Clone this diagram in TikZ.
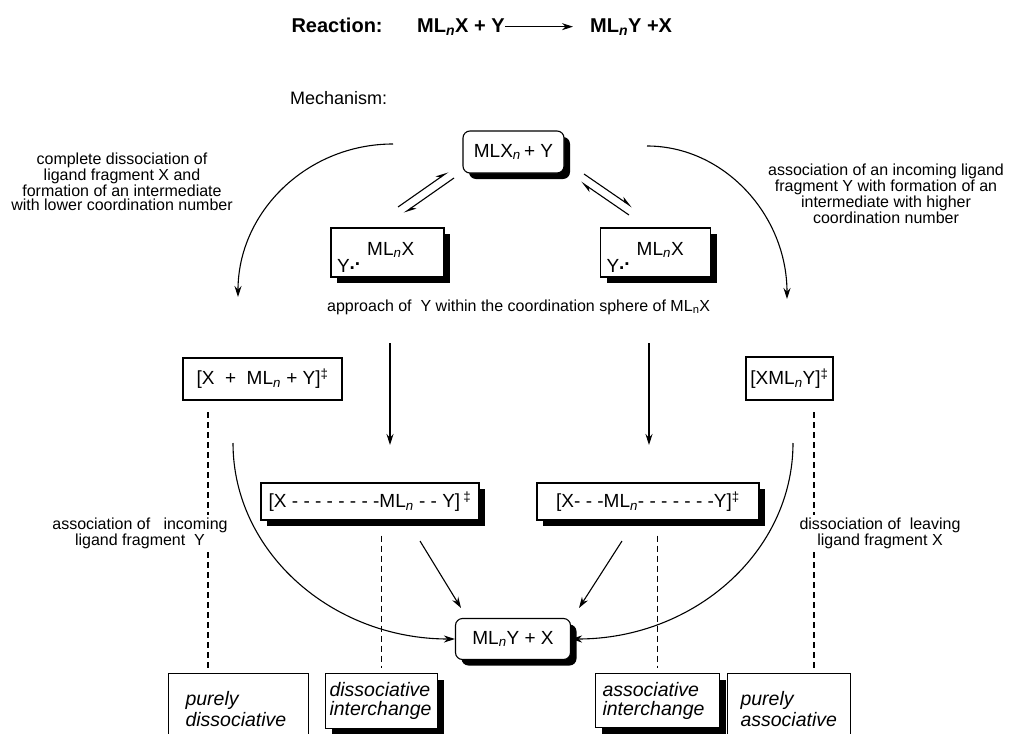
\documentclass[tikz,border=0pt]{standalone}
\usepackage{fontspec}
\setmainfont{Liberation Sans}
\usetikzlibrary{arrows.meta,shadows}
\newcommand{\subn}{\textsubscript{\itshape n}}
\newcommand{\ydots}{Y\raisebox{3pt}{\textbf{.}}\raisebox{7pt}{\textbf{.}}}
\tikzstyle{box}=[draw, line width=1.1pt, fill=white, inner sep=0pt, font=\fontsize{19}{21}\selectfont]
\tikzstyle{shadowbox}=[box, drop shadow={shadow xshift=6pt, shadow yshift=-6pt, fill=black, opacity=1}]
\tikzstyle{roundbox}=[shadowbox, rounded corners=7pt]
\tikzstyle{modebox}=[box, anchor=north west, align=left, font=\fontsize{19.5}{21}\selectfont\itshape]
\tikzstyle{note}=[align=center, inner sep=0pt, font=\fontsize{16}{14}\selectfont]
\tikzstyle{arrow}=[draw=black, line width=1.1pt, -{Stealth[length=11pt,width=7pt]}]
\tikzstyle{eqarrow}=[draw=black, line width=1.1pt, -{Stealth[harpoon,length=11pt,width=7pt]}]
\tikzstyle{dashline}=[draw=black, line width=1.3pt, dash pattern=on 6pt off 4pt]

\begin{document}
\begin{tikzpicture}[x=1pt,y=-1pt]
	\useasboundingbox (0,0) rectangle (1013,734);
	\clip (0,0) rectangle (1013,734);
	\begin{scope}
		\node (0) at (288,32)[anchor=base west, font=\fontsize{20}{22}\selectfont\bfseries] {Reaction:};
		\node (1) at (417,32)[anchor=base west, inner sep=0pt, font=\fontsize{20}{22}\selectfont\bfseries] {ML\subn X + Y};
		\node (2) at (590,32)[anchor=base west, inner sep=0pt, font=\fontsize{20}{22}\selectfont\bfseries] {ML\subn Y +X};
		\node (3) at (290,104)[anchor=base west, inner sep=0pt, font=\fontsize{18}{20}\selectfont] {Mechanism:};
		\node (4) at (513.5,152)[roundbox, minimum width=101pt, minimum height=42pt] {MLX\subn\,+ Y};
		\node (5) at (387.5,252.5)[shadowbox, minimum width=113pt, minimum height=49pt] {\smash{\makebox[113pt][l]{\hspace{6pt}\raisebox{-19.5pt}{\ydots}\hspace{7pt}\raisebox{-2.5pt}{ML\subn X}}}};
		\node (6) at (655.5,252.5)[shadowbox, minimum width=110pt, minimum height=49pt] {\smash{\makebox[110pt][l]{\hspace{6pt}\raisebox{-19.5pt}{\ydots}\hspace{7pt}\raisebox{-2.5pt}{ML\subn X}}}};
		\node (7) at (327,311)[anchor=base west, inner sep=0pt, font=\fontsize{16}{14}\selectfont] {approach of \ Y within the coordination sphere of ML\textsubscript{n}X};
		\node (8) at (122,182)[note] {complete dissociation of\\ligand fragment X and\\formation of an intermediate\\with lower coordination number};
		\node (9) at (886,194)[note] {association of an incoming ligand\\fragment Y with formation of an\\intermediate with higher\\coordination number};
		\node (10) at (262.5,379)[box, minimum width=159pt, minimum height=42pt] {[X \ + \ ML\subn\ + Y]\textsuperscript{‡}};
		\node (11) at (789.5,378.5)[box, minimum width=87pt, minimum height=43pt] {[XML\subn Y]\textsuperscript{‡}};
		\node (12) at (370,501.5)[shadowbox, minimum width=218pt, minimum height=37pt] {[X - - - - - - - -ML\subn\ - - Y]\,\textsuperscript{‡}};
		\node (13) at (648,501.5)[shadowbox, minimum width=222pt, minimum height=37pt] {[X- - -ML\subn- - - - - - -Y]\textsuperscript{‡}};
		\node (14) at (513,639)[roundbox, minimum width=115pt, minimum height=41pt] {ML\subn Y + X};
		\node (17) at (168,673)[modebox, minimum width=140pt, minimum height=70pt, inner xsep=17pt, text width=106pt] {purely\\dissociative};
		\node (18) at (325,673)[modebox, shadowbox, anchor=north west, minimum width=112pt, minimum height=55pt, inner xsep=4pt, text width=104pt, font=\fontsize{19.5}{19}\selectfont\itshape] {dissociative\\interchange};
		\node (19) at (595,673)[modebox, shadowbox, anchor=north west, minimum width=124pt, minimum height=54pt, inner xsep=7pt, text width=110pt, font=\fontsize{19.5}{19}\selectfont\itshape] {associative\\interchange};
		\node (20) at (727,673)[modebox, minimum width=123pt, minimum height=70pt, inner xsep=13pt, text width=97pt] {purely\\associative};
	\end{scope}
	\begin{scope}
		\coordinate (a1) at (393,144);
		\coordinate (a2) at (238,297);
		\coordinate (b1) at (647,146);
		\coordinate (b2) at (787,299);
		\coordinate (c1) at (233,443);
		\coordinate (d1) at (793,443);
		\coordinate (e1) at (398,207);
		\coordinate (e2) at (448,172);
		\coordinate (e3) at (454,178);
		\coordinate (e4) at (404,213);
		\coordinate (f1) at (584,174);
		\coordinate (f2) at (632,207);
		\coordinate (f3) at (629,215);
		\coordinate (f4) at (581,182);
		\coordinate (g1) at (390,343);
		\coordinate (g2) at (390,445);
		\coordinate (h1) at (649,343);
		\coordinate (h2) at (649,445);
		\coordinate (i1) at (420,541);
		\coordinate (i2) at (461,608);
		\coordinate (j1) at (622,541);
		\coordinate (j2) at (579,608);
		\coordinate (k1) at (208,412);
		\coordinate (k2) at (208,668);
		\coordinate (l1) at (814,412);
		\coordinate (l2) at (814,668);
	\end{scope}
	\begin{scope}
		\draw [arrow, shorten >=17pt] (1) -- (2);
		\draw [eqarrow] (e1) -- (e2);
		\draw [eqarrow] (e3) -- (e4);
		\draw [eqarrow] (f1) -- (f2);
		\draw [eqarrow] (f3) -- (f4);
		\draw [arrow] (a1) .. controls (307,144) and (238,212) .. (a2);
		\draw [arrow] (b1) .. controls (724,146) and (787,215) .. (b2);
		\draw [arrow] (g1) -- (g2);
		\draw [arrow] (h1) -- (h2);
		\draw [arrow] (c1) .. controls (233,552) and (332,639) .. (14.west);
		\draw [arrow] (d1) .. controls (793,552) and (694,639) .. (14.east);
		\draw [arrow] (i1) -- (i2);
		\draw [arrow] (j1) -- (j2);
		\draw [dashline] (k1) -- (k2);
		\draw [dashline] (l1) -- (l2);
		\draw [dashline, shorten <=15pt, shorten >=5pt] (12.south -| 18.north) -- (18.north);
		\draw [dashline, shorten <=15pt, shorten >=5pt] (13.south -| 19.north) -- (19.north);
	\end{scope}
	\node (15) at (140,533)[note, fill=white, inner sep=3pt] {association of \ \ incoming\\ligand fragment \ Y};
	\node (16) at (880,533)[note, fill=white, inner sep=3pt] {dissociation of \ leaving\\ligand fragment X};
\end{tikzpicture}
\end{document}
